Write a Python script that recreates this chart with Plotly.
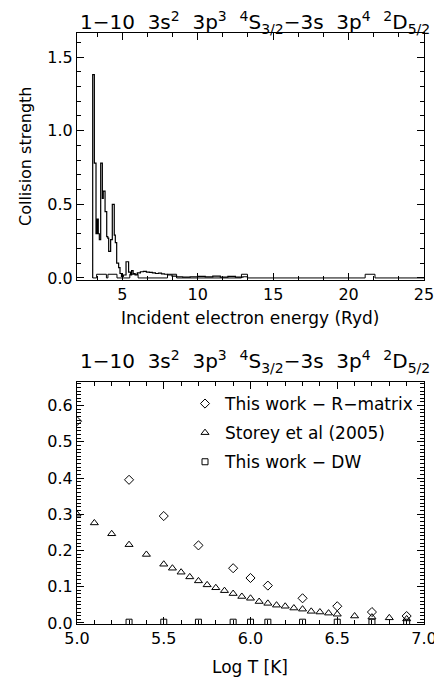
import plotly.graph_objects as go

# ---------------- data: top panel (collision strength vs energy) ----------------
rm_energy = [3.04, 3.04, 3.15, 3.26, 3.33, 3.41, 3.48, 3.57, 3.68, 3.74, 3.86, 3.97,
             4.04, 4.10, 4.23, 4.34, 4.47, 4.54, 4.63, 4.76, 4.85, 4.95, 5.07, 5.25,
             5.42, 5.55, 5.62, 5.72, 5.85, 6.0, 6.2, 6.4, 6.6, 6.8, 7.0, 7.2, 7.4,
             7.6, 7.8, 8.0, 8.3, 8.6, 9.0, 9.5, 10.0, 10.5, 11.0, 11.5, 12.0, 12.5,
             13.0, 13.3]
rm_cs = [0.0, 1.38, 0.78, 0.30, 0.40, 0.30, 0.26, 0.78, 0.54, 0.59, 0.45, 0.28,
         0.27, 0.18, 0.26, 0.50, 0.29, 0.24, 0.10, 0.07, 0.03, 0.01, 0.02, 0.11,
         0.04, 0.02, 0.05, 0.03, 0.02, 0.035, 0.042, 0.045, 0.040, 0.038, 0.034, 0.030,
         0.033, 0.028, 0.025, 0.020, 0.012, 0.008, 0.006, 0.008, 0.010, 0.007, 0.012,
         0.006, 0.010, 0.005, 0.008, 0.0]

dw_energy = [3.04, 3.30, 3.95, 4.05, 4.65, 5.50, 6.05, 8.00, 8.60, 12.90, 13.30,
             21.10, 21.75, 25.0]
dw_cs = [0.0, 0.025, 0.0, 0.025, 0.0, 0.025, 0.0, 0.025, 0.0, 0.025, 0.0,
         0.025, 0.0, 0.0]

# ---------------- data: bottom panel (effective collision strength vs log T) ----------------
rmat_logt = [5.0, 5.3, 5.5, 5.7, 5.9, 6.0, 6.1, 6.3, 6.5, 6.7, 6.9]
rmat_ups = [0.557, 0.395, 0.295, 0.214, 0.151, 0.124, 0.103, 0.068, 0.046, 0.030, 0.019]

storey_logt = [5.0, 5.1, 5.2, 5.3, 5.4, 5.5, 5.55, 5.6, 5.65, 5.7, 5.75, 5.8, 5.85,
               5.9, 5.95, 6.0, 6.05, 6.1, 6.15, 6.2, 6.25, 6.3, 6.35, 6.4, 6.45,
               6.5, 6.6, 6.7, 6.8, 6.9]
storey_ups = [0.300, 0.276, 0.246, 0.216, 0.189, 0.162, 0.151, 0.140, 0.127, 0.116,
              0.105, 0.097, 0.089, 0.081, 0.073, 0.068, 0.059, 0.054, 0.049, 0.046,
              0.041, 0.038, 0.032, 0.030, 0.027, 0.024, 0.019, 0.016, 0.014, 0.011]

dw_logt = [5.3, 5.5, 5.7, 5.9, 6.0, 6.1, 6.3, 6.5, 6.7, 6.9]
dw_ups = [0.002, 0.002, 0.002, 0.002, 0.002, 0.002, 0.002, 0.002, 0.002, 0.002]

title_text = ("1\u221210  3s<sup>2</sup>  3p<sup>3</sup>  <sup>4</sup>S<sub>3/2</sub>"
              "\u22123s  3p<sup>4</sup>  <sup>2</sup>D<sub>5/2</sub>")

FONT = "DejaVu Sans"
OFF = 8                      # default page body margin
W, H = 442 - OFF, 678 - OFF


def px(X):
    return (X - OFF) / W


def py(Y):
    return 1 - (Y - OFF) / H


fig = go.Figure()

fig.add_trace(go.Scatter(x=rm_energy, y=rm_cs, mode="lines", line=dict(color="black", width=1.2, shape="hv"),
                         xaxis="x", yaxis="y", showlegend=False))
fig.add_trace(go.Scatter(x=dw_energy, y=dw_cs, mode="lines", line=dict(color="black", width=1, shape="hv"),
                         xaxis="x", yaxis="y", showlegend=False))

fig.add_trace(go.Scatter(x=rmat_logt, y=rmat_ups, mode="markers", name="This work \u2212 R\u2212matrix",
                         marker=dict(symbol="diamond-open", size=7, color="black", line=dict(width=1)),
                         xaxis="x2", yaxis="y2", legendgroup="a"))
fig.add_trace(go.Scatter(x=storey_logt, y=storey_ups, mode="markers", name="Storey et al (2005)",
                         marker=dict(symbol="triangle-up-open", size=7, color="black", line=dict(width=1)),
                         xaxis="x2", yaxis="y2", legendgroup="b"))
fig.add_trace(go.Scatter(x=dw_logt, y=dw_ups, mode="markers", name="This work \u2212 DW",
                         marker=dict(symbol="square-open", size=6, color="black", line=dict(width=1)),
                         xaxis="x2", yaxis="y2", legendgroup="c"))

xdom = [px(77), px(424)]
ydom_top = [py(280), py(33)]
ydom_bot = [py(624), py(382)]

axis_common = dict(showline=True, linecolor="black", linewidth=1, mirror="ticks", ticks="inside",
                   tickcolor="black", ticklen=7, tickwidth=1, showgrid=False, zeroline=False,
                   automargin=False, ticklabeloverflow="allow",
                   tickfont=dict(family=FONT, size=16, color="black"))

fig.update_layout(
    width=W, height=H, autosize=False,
    margin=dict(l=0, r=0, t=0, b=0),
    paper_bgcolor="white", plot_bgcolor="white",
    font=dict(family=FONT, color="black"),
    xaxis=dict(domain=xdom, anchor="y", range=[2.0, 25.0], tick0=0, dtick=5,
               minor=dict(ticks="inside", ticklen=4, dtick=5 / 3, tick0=0, tickcolor="black"),
               **axis_common),
    yaxis=dict(domain=ydom_top, anchor="x", range=[-0.014, 1.663], tick0=0, dtick=0.5, tickformat=".1f",
               minor=dict(ticks="inside", ticklen=4, dtick=0.1, tick0=0, tickcolor="black"),
               **axis_common),
    xaxis2=dict(domain=xdom, anchor="y2", range=[5.0, 7.0], tick0=5, dtick=0.5, tickformat=".1f",
                minor=dict(ticks="inside", ticklen=4, dtick=0.1, tick0=5, tickcolor="black"),
                **axis_common),
    yaxis2=dict(domain=ydom_bot, anchor="x2", range=[-0.003, 0.665], tick0=0, dtick=0.1, tickformat=".1f",
                minor=dict(ticks="inside", ticklen=4, dtick=0.01, tick0=0, tickcolor="black"),
                **axis_common),
    legend=dict(x=px(185), y=py(386), xanchor="left", yanchor="top",
                bgcolor="rgba(0,0,0,0)", font=dict(family=FONT, size=17, color="black"),
                tracegroupgap=4, itemwidth=30),
    annotations=[
        dict(text=title_text, x=px(255), y=py(23), xref="paper", yref="paper",
             showarrow=False, xanchor="center", yanchor="middle",
             font=dict(family=FONT, size=20, color="black")),
        dict(text=title_text, x=px(255), y=py(361), xref="paper", yref="paper",
             showarrow=False, xanchor="center", yanchor="middle",
             font=dict(family=FONT, size=20, color="black")),
        dict(text="Collision strength", x=px(25), y=py(157), xref="paper", yref="paper",
             showarrow=False, textangle=-90, xanchor="center", yanchor="middle",
             font=dict(family=FONT, size=16, color="black")),
        dict(text="Incident electron energy (Ryd)", x=px(250), y=py(318), xref="paper", yref="paper",
             showarrow=False, xanchor="center", yanchor="middle",
             font=dict(family=FONT, size=17, color="black")),
        dict(text="Log T [K]", x=px(250), y=py(667), xref="paper", yref="paper",
             showarrow=False, xanchor="center", yanchor="middle",
             font=dict(family=FONT, size=17, color="black")),
    ],
)

fig.write_html("out.html")
